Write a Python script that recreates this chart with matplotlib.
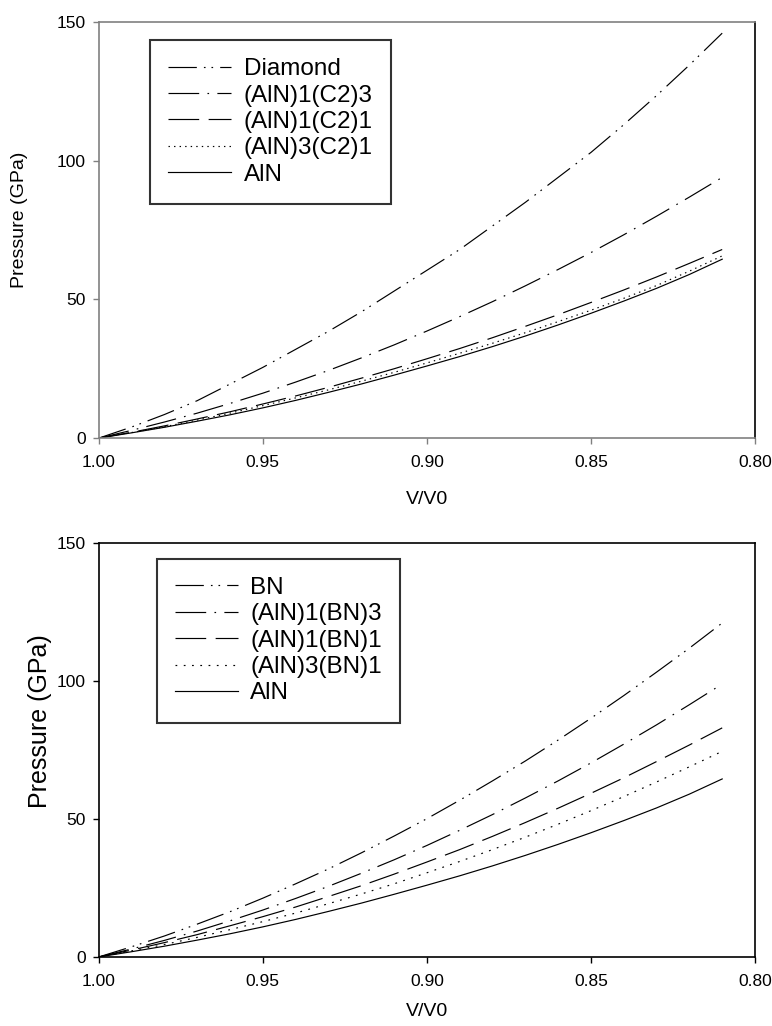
import matplotlib
matplotlib.use("Agg")
import matplotlib.pyplot as plt

plt.rcParams["font.family"] = ["Liberation Sans", "DejaVu Sans"]

# V/V0 sampling points (same for every curve)
V = [1.00, 0.99, 0.98, 0.97, 0.96, 0.95, 0.94, 0.93, 0.92, 0.91,
     0.90, 0.89, 0.88, 0.87, 0.86, 0.85, 0.84, 0.83, 0.82, 0.81]

# pressures in GPa
P_ALN = [0, 1.9, 3.9, 6.1, 8.4, 10.9, 13.6, 16.5, 19.5, 22.7,
         26.0, 29.4, 33.0, 36.8, 40.8, 45.0, 49.4, 54.0, 59.0, 64.5]

# top panel: AlN / C2 superlattices
P_DIAMOND = [0, 4.0, 8.5, 13.5, 19.5, 25.5, 32.0, 38.5, 45.5, 53.0,
             60.5, 68.0, 76.5, 85.0, 94.0, 103.0, 113.0, 123.5, 134.5, 146.0]
P_ALN1_C23 = [0, 2.8, 5.8, 9.0, 12.5, 16.2, 20.2, 24.4, 28.9, 33.6,
              38.6, 43.8, 49.2, 54.9, 60.8, 66.9, 73.3, 80.0, 86.9, 94.0]
P_ALN1_C21 = [0, 2.1, 4.4, 6.9, 9.5, 12.3, 15.2, 18.3, 21.6, 25.0,
              28.6, 32.3, 36.2, 40.3, 44.5, 48.9, 53.4, 58.1, 63.0, 68.0]
P_ALN3_C21 = [0, 2.0, 4.1, 6.5, 9.0, 11.7, 14.5, 17.4, 20.5, 23.7,
              27.1, 30.6, 34.2, 38.0, 42.0, 46.1, 50.4, 55.0, 60.2, 65.7]

# bottom panel: AlN / BN superlattices
P_BN = [0, 3.7, 7.6, 11.9, 16.4, 21.3, 26.5, 31.9, 37.7, 43.8,
        50.1, 56.8, 63.8, 71.0, 78.6, 86.5, 94.7, 103.2, 111.9, 121.0]
P_ALN1_BN3 = [0, 2.9, 6.0, 9.4, 13.1, 17.0, 21.2, 25.6, 30.3, 35.2,
              40.4, 45.9, 51.6, 57.6, 63.8, 70.3, 77.1, 84.1, 91.4, 98.9]
P_ALN1_BN1 = [0, 2.5, 5.2, 8.1, 11.3, 14.6, 18.1, 21.9, 25.8, 30.0,
              34.4, 38.9, 43.7, 48.7, 53.9, 59.3, 64.9, 70.8, 76.8, 83.0]
P_ALN3_BN1 = [0, 2.2, 4.5, 7.1, 9.9, 12.8, 15.9, 19.3, 22.8, 26.5,
              30.5, 34.6, 38.9, 43.4, 48.1, 53.0, 58.1, 63.4, 68.9, 74.5]

X_TICKS = [1.00, 0.95, 0.90, 0.85, 0.80]
Y_TICKS = [0, 50, 100, 150]

DASHDOTDOT = (0, (24, 6, 1.4, 5, 1.4, 6))
DASHDOT = (0, (26, 7, 1.4, 7))
DASHED = (0, (26, 8))

TOP_SERIES = [
    ("Diamond", P_DIAMOND, DASHDOTDOT),
    ("(AlN)1(C2)3", P_ALN1_C23, DASHDOT),
    ("(AlN)1(C2)1", P_ALN1_C21, DASHED),
    ("(AlN)3(C2)1", P_ALN3_C21, (0, (1.2, 3.5))),
    ("AlN", P_ALN, "-"),
]
BOTTOM_SERIES = [
    ("BN", P_BN, DASHDOTDOT),
    ("(AlN)1(BN)3", P_ALN1_BN3, DASHDOT),
    ("(AlN)1(BN)1", P_ALN1_BN1, DASHED),
    ("(AlN)3(BN)1", P_ALN3_BN1, (0, (1.5, 5.5))),
    ("AlN", P_ALN, "-"),
]

fig = plt.figure(figsize=(7.72, 10.26), dpi=100)
ax_top = fig.add_axes([0.128, 0.573, 0.850, 0.4055])
ax_bot = fig.add_axes([0.128, 0.0673, 0.850, 0.4035])


def draw(ax, series, legend_xy, spine_color, ylab_size, ylab_x, ylab_y, xlab_pad):
    for label, p, ls in series:
        ax.plot(V, p, color="black", lw=0.85, ls=ls, label=label)
    ax.set_xlim(1.00, 0.80)
    ax.set_ylim(0, 150)
    ax.set_xticks(X_TICKS)
    ax.set_xticklabels([f"{t:.2f}" for t in X_TICKS])
    ax.set_yticks(Y_TICKS)
    ax.tick_params(direction="out", length=4.5, width=1, labelsize=12.5,
                   color=spine_color)
    ax.tick_params(axis="x", pad=8)
    ax.tick_params(axis="y", pad=5)
    for side in ("left", "top", "bottom"):
        ax.spines[side].set_color(spine_color)
        ax.spines[side].set_linewidth(1.2)
    ax.spines["right"].set_color("black")
    ax.spines["right"].set_linewidth(1.2)
    ax.set_xlabel("V/V0", fontsize=14, labelpad=xlab_pad)
    ax.set_ylabel("Pressure (GPa)", fontsize=ylab_size)
    ax.yaxis.set_label_coords(ylab_x, ylab_y)
    leg = ax.legend(loc="upper left", bbox_to_anchor=legend_xy,
                    fontsize=17.5, frameon=True, fancybox=False,
                    handlelength=2.6, handletextpad=0.5, labelspacing=0.18,
                    borderpad=0.75, borderaxespad=0)
    leg.get_frame().set_edgecolor("black")
    leg.get_frame().set_linewidth(1.5)


draw(ax_top, TOP_SERIES, (0.078, 0.957), "#808080", 14, -0.108, 0.524, 15)
draw(ax_bot, BOTTOM_SERIES, (0.088, 0.962), "black", 18, -0.072, 0.57, 10)

fig.savefig("out.png", dpi=100)
